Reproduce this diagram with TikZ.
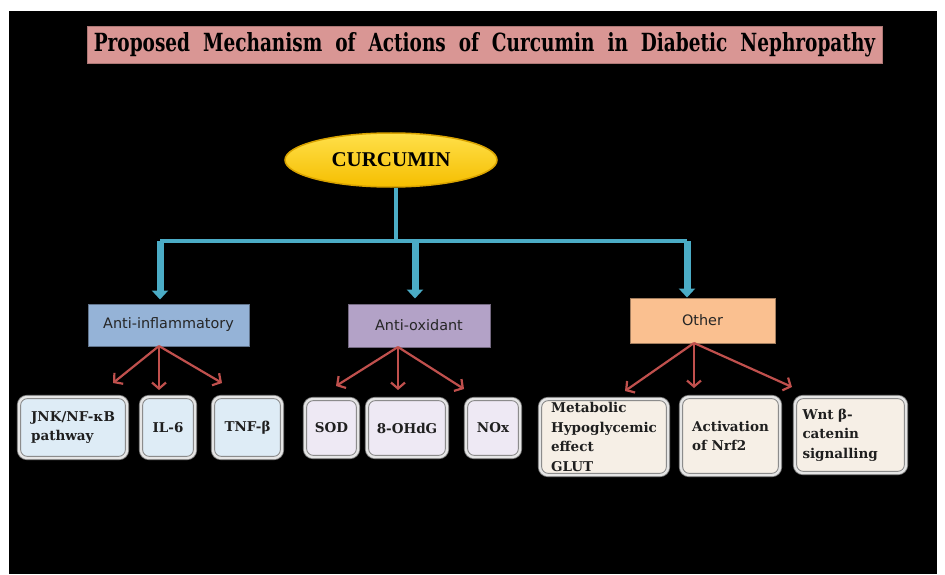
\documentclass[tikz,border=0pt]{standalone}
\usepackage{fontspec}
\setmainfont{DejaVu Serif}
\newfontfamily\titlefont[FakeStretch=0.74]{DejaVu Serif}
\newfontfamily\catfont{DejaVu Sans}
\newfontfamily\curfont{Liberation Serif}
\usetikzlibrary{shapes.geometric,arrows.meta}
\definecolor{titlepink}{HTML}{D99694}
\definecolor{curyellow}{HTML}{FFD000}
\definecolor{curtop}{HTML}{FFE04A}
\definecolor{curbottom}{HTML}{F5BE00}
\definecolor{curedge}{HTML}{D9A300}
\definecolor{linkblue}{HTML}{4BACC6}
\definecolor{arrowred}{HTML}{C0504D}
\definecolor{catblue}{HTML}{95B3D7}
\definecolor{catpurple}{HTML}{B3A2C7}
\definecolor{catorange}{HTML}{FAC090}
\definecolor{leafblue}{HTML}{DEECF6}
\definecolor{leafpurple}{HTML}{EEE9F4}
\definecolor{leafcream}{HTML}{F6EFE6}
\begin{document}
\begin{tikzpicture}[x=1pt,y=-1pt,
  titlebox/.style={fill=titlepink, draw=titlepink!80!black, line width=0.6pt,
    minimum width=795pt, minimum height=37pt, inner sep=0pt,
    font=\titlefont\bfseries\fontsize{25}{25}\selectfont},
  curbox/.style={ellipse, top color=curtop, bottom color=curbottom, draw=curedge, line width=1.5pt,
    minimum width=212pt, minimum height=54pt, inner sep=0pt,
    font=\curfont\bfseries\fontsize{21}{21}\selectfont},
  catbox/.style={draw=#1!65!black, fill=#1, line width=1pt, inner sep=0pt,
    font=\catfont\fontsize{14.4}{14.4}\selectfont, text=black!85},
  leafbox/.style={rounded corners=8pt, fill=#1, draw=black!50, double=white!90!black,
    double distance=2.4pt, line width=0.9pt, inner sep=0pt, align=left,
    font=\bfseries\fontsize{13.5}{19.5}\selectfont, text=black!88},
  bluelink/.style={draw=linkblue, line width=4pt},
  bluearrow/.style={draw=linkblue, line width=7pt,
    -{Triangle[width=16pt,length=9pt]}},
  redarrow/.style={draw=arrowred, line width=2.2pt,
    -{Straight Barb[length=6pt,width=14pt]}}
]
\useasboundingbox (0,0) rectangle (945,575);
\fill[white] (0,0) rectangle (945,575);
\fill[black] (9,11) rectangle (937,574);

% title
\node[titlebox] (title) at (484.5,44.5) {Proposed\ \ Mechanism\ \ of\ \ Actions\ \ of\ \ Curcumin\ \ in\ \ Diabetic\ \ Nephropathy};

% root
\node[curbox] (cur) at (391,160) {CURCUMIN};

% categories
\node[catbox=catblue, minimum width=161pt, minimum height=42pt] (ai) at (168.5,325) {Anti-inflammatory};
\node[catbox=catpurple, minimum width=142pt, minimum height=43pt] (ao) at (419,325.5) {Anti-oxidant};
\node[catbox=catorange, minimum width=145pt, minimum height=45pt] (ot) at (702.5,320.5) {Other};

% blue connectors
\coordinate (hub) at (396,241);
\coordinate (b1) at (160,241);
\coordinate (b2) at (415,241);
\coordinate (b3) at (687,241);
\draw[draw=linkblue, line width=3.5pt] (hub |- cur.south) -- (hub);
\draw[bluelink] (b1) -- (b3);
\draw[bluearrow, shorten >=4pt] (b1) -- (b1 |- ai.north);
\draw[bluearrow, shorten >=5pt] (b2) -- (b2 |- ao.north);
\draw[bluearrow, shorten >=0pt] (b3) -- (b3 |- ot.north);

% leaves
\node[leafbox=leafblue, minimum width=108pt, minimum height=61pt] (jnk) at (73,427.5) {JNK/NF-κB\\pathway};
\node[leafbox=leafblue, minimum width=54pt, minimum height=61pt] (il6) at (168,427.5) {IL-6};
\node[leafbox=leafblue, minimum width=69pt, minimum height=61pt] (tnf) at (247.5,427.5) {TNF-β};

\node[leafbox=leafpurple, minimum width=53pt, minimum height=58pt] (sod) at (331.5,428) {SOD};
\node[leafbox=leafpurple, minimum width=80pt, minimum height=58pt] (ohdg) at (407,428) {8-OHdG};
\node[leafbox=leafpurple, minimum width=54pt, minimum height=58pt] (nox) at (493,428) {NOx};

\node[leafbox=leafcream, minimum width=128pt, minimum height=76pt] (met) at (604,437) {Metabolic\\Hypoglycemic\\effect\\GLUT};
\node[leafbox=leafcream, minimum width=99pt, minimum height=78pt] (nrf) at (730.5,436) {Activation\\of Nrf2};
\node[leafbox=leafcream, minimum width=111pt, minimum height=76pt, text width=96pt] (wnt) at (850.5,435) {Wnt β-\\catenin\\signalling};

% red arrows
\coordinate (r1) at (159,346);
\coordinate (t11) at (113,383);
\coordinate (t12) at (159,390);
\coordinate (t13) at (222,383);
\coordinate (r2) at (398,347);
\coordinate (t21) at (336,386);
\coordinate (t22) at (398,390);
\coordinate (t23) at (464,389);
\coordinate (r3) at (694,343);
\coordinate (t31) at (625,391);
\coordinate (t32) at (694,388);
\coordinate (t33) at (792,387);
\foreach \s/\t in {r1/t11,r1/t12,r1/t13,r2/t21,r2/t22,r2/t23,r3/t31,r3/t32,r3/t33}
  \draw[redarrow] (\s) -- (\t);
\end{tikzpicture}
\end{document}
